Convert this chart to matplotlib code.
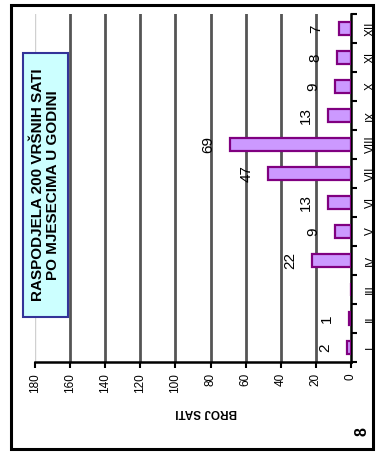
import numpy as np
import matplotlib
matplotlib.use("Agg")
from matplotlib import pyplot as plt
from matplotlib.patches import Rectangle

plt.rcParams['font.family'] = ['Liberation Sans', 'DejaVu Sans']

months = ['I', 'II', 'III', 'IV', 'V', 'VI', 'VII', 'VIII', 'IX', 'X', 'XI', 'XII']
hours = [2, 1, 0, 22, 9, 13, 47, 69, 13, 9, 8, 7]
value_ticks = [0, 20, 40, 60, 80, 100, 120, 140, 160, 180]
title = "RASPODJELA 200 VRŠNIH SATI\nPO MJESECIMA U GODINI"
axis_label = "BROJ SATI"
page_no = "8"

W, H = 377, 457
fig = plt.figure(figsize=(W / 100, H / 100), dpi=100)
fig.patch.set_facecolor("white")

# whole chart is turned 90 deg: categories run bottom->top, values right->left
ax = fig.add_axes([35 / W, (H - 362) / H, (351 - 35) / W, (362 - 14) / H])
pos = np.arange(len(months))
ax.barh(pos, hours, height=0.42, color="#cc99ff", edgecolor="#800080", linewidth=1.6, zorder=3)

ax.set_xlim(180, 0)
ax.set_ylim(-0.5, len(months) - 0.5)

for v in value_ticks[1:-1]:
    ax.axvline(v, color="#555555", lw=2, zorder=1)
ax.axvline(180, color="#d0d0d0", lw=1, zorder=1)

for i, v in enumerate(hours):
    if v == 0:
        continue
    ax.annotate(str(v), (v, i), xytext=(-22, 0), textcoords="offset pixels",
                ha="center", va="center", rotation=90, fontsize=11)

for s in ["top", "left"]:
    ax.spines[s].set_visible(False)
ax.spines["right"].set_linewidth(1.8)
ax.spines["bottom"].set_linewidth(1.8)

ax.yaxis.tick_right()
ax.set_yticks(pos)
ax.set_yticklabels(months, rotation=90, va="center", fontsize=8.5)
ax.set_yticks(np.arange(-0.5, len(months), 1), minor=True)
ax.tick_params(axis="y", which="major", length=0, pad=10)
ax.tick_params(axis="y", which="minor", length=4, width=1.5, direction="out")

ax.set_xticks(value_ticks)
ax.set_xticklabels([str(v) for v in value_ticks], rotation=90, fontsize=8.5)
ax.tick_params(axis="x", length=4, width=1.5, direction="out", pad=4)

fig.text(206 / W, 1 - 412 / H, axis_label, rotation=180, ha="center", va="center",
         fontsize=8.5, fontweight="bold")
fig.text(362 / W, 1 - 432 / H, page_no, rotation=90, ha="center", va="center",
         fontsize=11.5, fontweight="bold")

# title box
fig.patches.append(Rectangle((23 / W, 1 - 317 / H), 45 / W, 264 / H, transform=fig.transFigure,
                             facecolor="#ccffff", edgecolor="#333399", lw=1.5, zorder=5))
fig.text(45.5 / W, 1 - 185 / H, title, rotation=90, ha="center", va="center", fontsize=11,
         fontweight="bold", linespacing=1.05, multialignment="center", zorder=6)

# outer frame
fig.patches.append(Rectangle((11 / W, 1 - 449 / H), 362 / W, 444 / H, transform=fig.transFigure,
                             facecolor="none", edgecolor="black", lw=2.2, zorder=10))

fig.savefig("out.png", dpi=100)
